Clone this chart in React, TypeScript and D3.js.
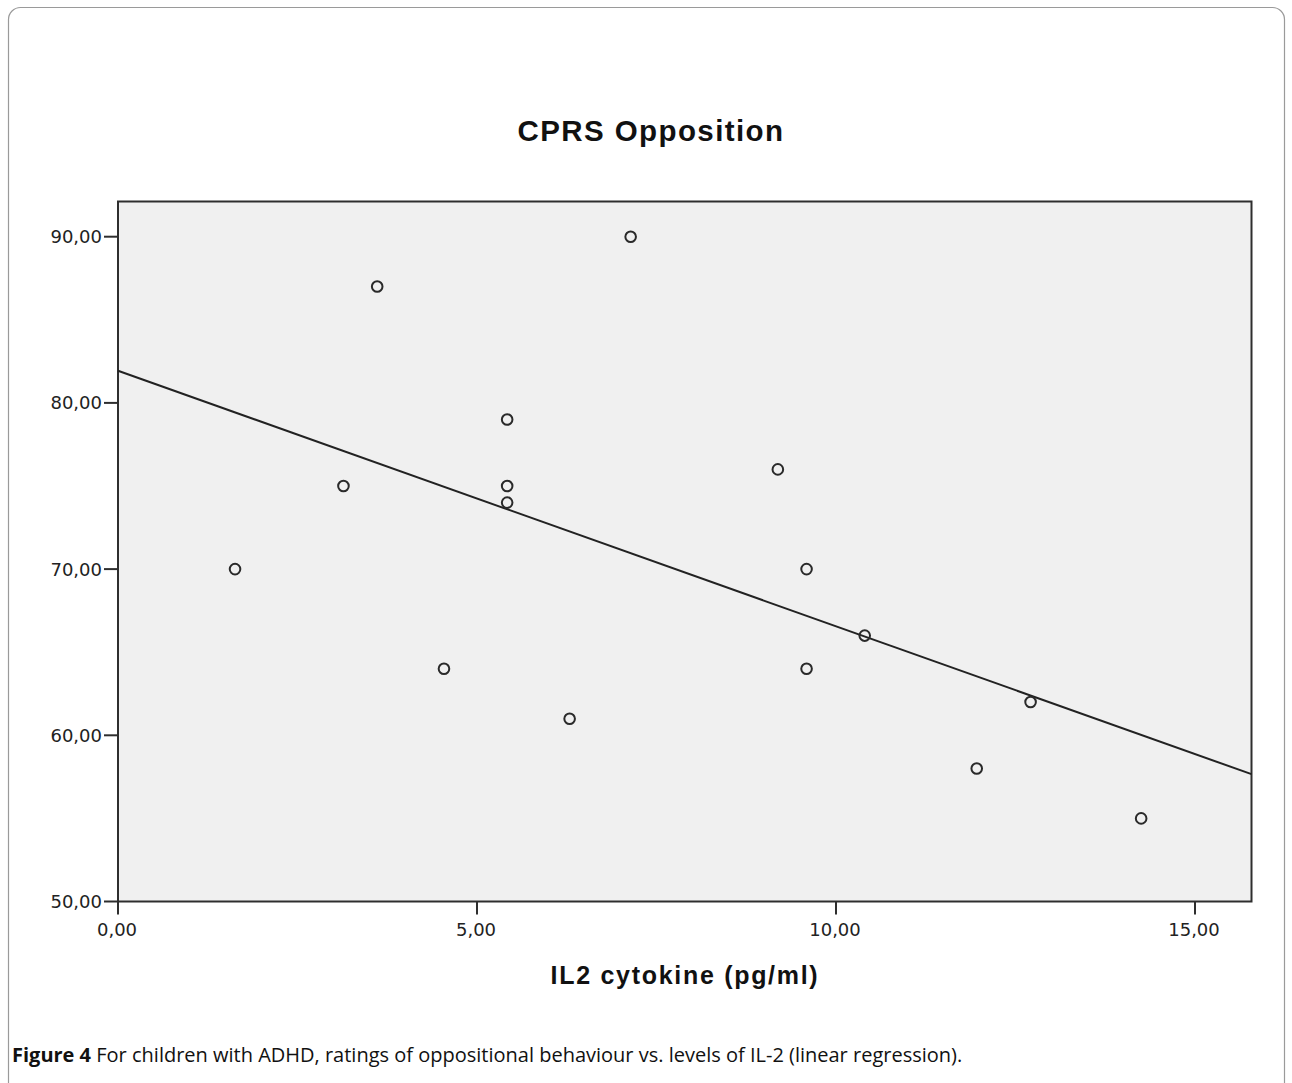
import React from "react";
import * as d3 from "d3";

const il2Values = [1.63, 3.14, 3.61, 4.54, 5.42, 5.42, 5.42, 6.29, 7.14, 9.19, 9.59, 9.59, 10.4, 11.96, 12.71, 14.25];
const oppositionValues = [70, 75, 87, 64, 79, 75, 74, 61, 90, 76, 70, 64, 66, 58, 62, 55];
const xTicks = [0, 5, 10, 15];
const yTicks = [50, 60, 70, 80, 90];
const title = "CPRS Opposition";
const xLabel = "IL2 cytokine (pg/ml)";
const captionBold = "Figure 4";
const captionText = " For children with ADHD, ratings of oppositional behaviour vs. levels of IL-2 (linear regression)";

const W = 1292;
const H = 1083;
const plot = { left: 118, right: 1251.5, top: 201.5, bottom: 901.5 };

const fmt = (v: number) => v.toFixed(2).replace(".", ",");

export default function App() {
  const x = d3.scaleLinear().domain([0, 15]).range([plot.left, 1195]);
  const y = d3.scaleLinear().domain([50, 90]).range([plot.bottom, 236.7]);
  const xMax = x.invert(plot.right);

  const mx = d3.mean(il2Values)!;
  const my = d3.mean(oppositionValues)!;
  let sxy = 0, sxx = 0;
  il2Values.forEach((v, i) => {
    sxy += (v - mx) * (oppositionValues[i] - my);
    sxx += (v - mx) * (v - mx);
  });
  const slope = sxy / sxx;
  const intercept = my - slope * mx;
  const lineGen = d3.line<number>().x((d) => x(d)).y((d) => y(intercept + slope * d));
  const pts = il2Values.map((v, i) => ({ x: v, y: oppositionValues[i] }));

  const axisColor = "#2e2e2e";
  const headFont = "'Liberation Sans', Arial, sans-serif";
  const tickFont = "'DejaVu Sans', Verdana, sans-serif";

  return (
    <svg width={W} height={H} style={{ position: "absolute", left: 0, top: 0, background: "#fff" }}>
      <rect x={8.5} y={7.5} width={1276} height={1120} rx={12} ry={12} fill="#fff" stroke="#9a9a9a" strokeWidth={1.2} />
      <text x={651} y={140.5} textAnchor="middle" fontFamily={headFont} fontWeight="bold" fontSize={29.5} letterSpacing={1.4} fill="#111">
        {title}
      </text>
      <rect x={plot.left} y={plot.top} width={plot.right - plot.left} height={plot.bottom - plot.top} fill="#f0f0f0" stroke={axisColor} strokeWidth={2} />
      {yTicks.map((t) => (
        <g key={"y" + t}>
          <line x1={plot.left - 14} x2={plot.left} y1={y(t)} y2={y(t)} stroke={axisColor} strokeWidth={2} />
          <text x={plot.left - 16} y={y(t)} dy="0.36em" textAnchor="end" fontFamily={tickFont} fontSize={18} fill="#222">
            {fmt(t)}
          </text>
        </g>
      ))}
      {xTicks.map((t) => (
        <g key={"x" + t}>
          <line x1={x(t)} x2={x(t)} y1={plot.bottom} y2={plot.bottom + 13} stroke={axisColor} strokeWidth={2} />
          <text x={x(t) - 1} y={936} textAnchor="middle" fontFamily={tickFont} fontSize={18} fill="#222">
            {fmt(t)}
          </text>
        </g>
      ))}
      <path d={lineGen([0, xMax]) || ""} fill="none" stroke="#222" strokeWidth={2} />
      {pts.map((p, i) => (
        <circle key={i} cx={x(p.x)} cy={y(p.y)} r={5.3} fill="none" stroke="#2a2a2a" strokeWidth={2} />
      ))}
      <text x={685} y={984} textAnchor="middle" fontFamily={headFont} fontWeight="bold" fontSize={25} letterSpacing={1.7} fill="#111">
        {xLabel}
      </text>
      <text x={12} y={1062} fontFamily="'Open Sans', sans-serif" fontSize={20} fill="#111">
        <tspan fontWeight="bold">{captionBold}</tspan>
        <tspan>{captionText}</tspan>
        <tspan>.</tspan>
      </text>
    </svg>
  );
}
